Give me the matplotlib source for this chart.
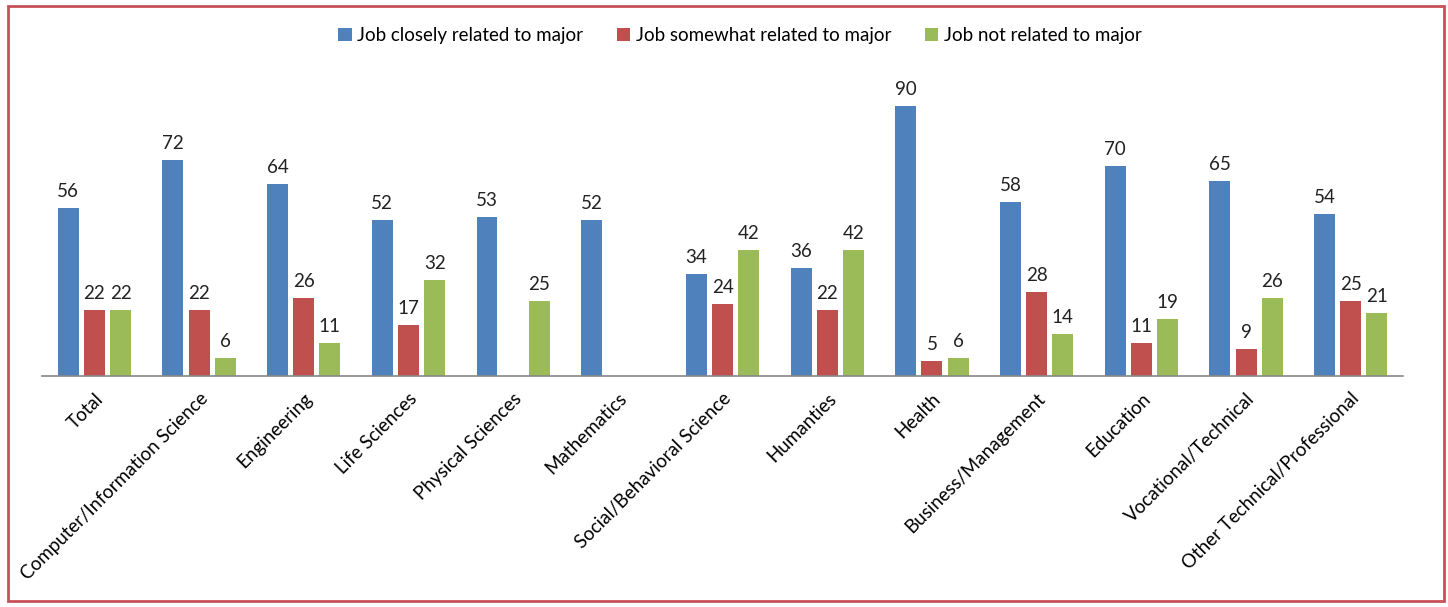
import numpy as np
import matplotlib.pyplot as plt
from matplotlib.patches import Rectangle

plt.rcParams['font.family'] = ['Lato', 'DejaVu Sans']

fields = ['Total', 'Computer/Information Science', 'Engineering', 'Life Sciences',
          'Physical Sciences', 'Mathematics', 'Social/Behavioral Science', 'Humanties',
          'Health', 'Business/Management', 'Education', 'Vocational/Technical',
          'Other Technical/Professional']
closely = [56, 72, 64, 52, 53, 52, 34, 36, 90, 58, 70, 65, 54]
somewhat = [22, 22, 26, 17, None, None, 24, 22, 5, 28, 11, 9, 25]
not_related = [22, 6, 11, 32, 25, None, 42, 42, 6, 14, 19, 26, 21]

series = [
    ('Job closely related to major', closely, '#4F81BD'),
    ('Job somewhat related to major', somewhat, '#C0504D'),
    ('Job not related to major', not_related, '#9BBB59'),
]

fig = plt.figure(figsize=(14.48, 6.07), dpi=100)
ax = fig.add_axes([0.029, 0.3806, 0.94, 0.4942])

x = np.arange(len(fields))
width = 0.2
offsets = [-0.25, 0, 0.25]

for (name, vals, color), off in zip(series, offsets):
    xs = [xi + off for xi, v in zip(x, vals) if v is not None]
    vs = [v for v in vals if v is not None]
    bars = ax.bar(xs, vs, width, color=color, label=name)
    ax.bar_label(bars, padding=6, fontsize=13.5, color='#222222')

ax.set_xlim(-0.5, len(fields) - 0.5)
ax.set_ylim(0, 100)
ax.set_yticks([])
for side in ['top', 'right', 'left']:
    ax.spines[side].set_visible(False)
ax.spines['bottom'].set_color('#888888')
ax.spines['bottom'].set_linewidth(1.2)

ax.set_xticks(x)
ax.set_xticklabels(fields, rotation=45, ha='right', rotation_mode='anchor', fontsize=13.5)
ax.tick_params(axis='x', length=0, pad=10)

fig.legend(loc='center', bbox_to_anchor=(0.511, 0.942), ncol=3, frameon=False,
           fontsize=13.5, handlelength=0.7, handleheight=0.7, handletextpad=0.3,
           columnspacing=1.8)

# red frame round the whole figure
fig.patches.append(Rectangle((0.0055, 0.01), 0.9915, 0.98, transform=fig.transFigure,
                             fill=False, edgecolor='#C8505A', linewidth=2))

fig.savefig('out.png', dpi=100)
